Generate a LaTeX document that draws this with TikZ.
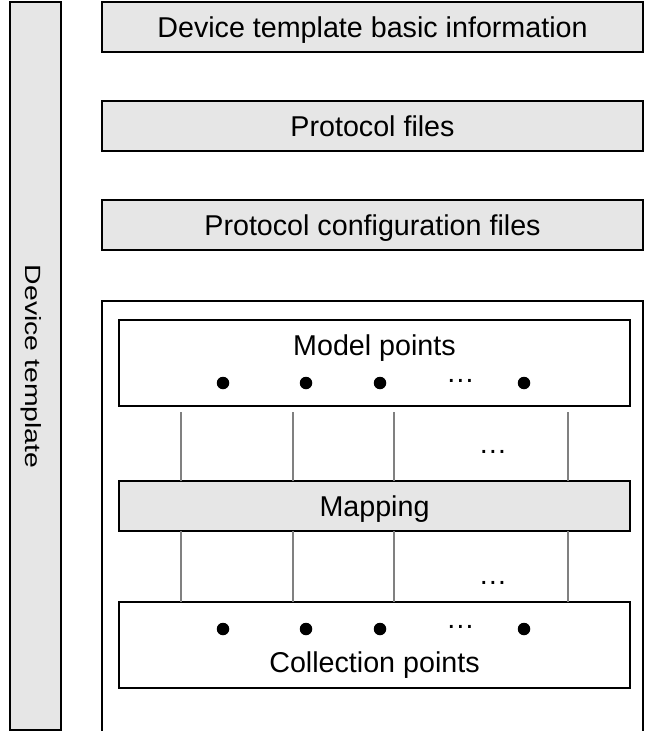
\documentclass[tikz,border=0pt]{standalone}
\usepackage{fontspec}
\setmainfont{Liberation Sans}
\usepackage{tikz}
\usepackage{xcolor}
\usepackage{graphicx}

\definecolor{boxgray}{RGB}{230,230,230}
\definecolor{linkgray}{RGB}{128,128,128}
\newcommand{\pxu}{0.75pt}

\begin{document}
\begin{tikzpicture}[x=0.75pt,y=-0.75pt,
    every node/.style={inner sep=0pt,outer sep=0pt},
    box/.style={draw=black,line width=1.5pt,minimum width=511*\pxu},
    filebox/.style={box,fill=boxgray,minimum height=50*\pxu,
      font=\fontsize{21.5}{26}\selectfont,text height=15.4pt,text depth=0pt},
    pointbox/.style={box,minimum height=86*\pxu},
    lbl/.style={anchor=base,font=\fontsize{21.5}{26}\selectfont},
    pt/.style={circle,fill=black,minimum size=12.5*\pxu},
    link/.style={draw=linkgray,line width=1pt}]
  \useasboundingbox (0,0) rectangle (645,731);
  \node (tmpl) [draw,line width=1.2pt,fill=boxgray,minimum width=51*\pxu,
    minimum height=728*\pxu] at (35.3,366) {};
  \node (tmpllbl) [anchor=base,rotate=-90,font=\fontsize{16.5}{20}\selectfont]
    at (26,366.5) {\scalebox{1.29}[1]{Device template}};
  \node (info) [filebox,minimum width=541*\pxu] at (372.5,27) {Device template basic information};
  \node (proto) [filebox,minimum width=541*\pxu] at (372.5,126) {Protocol files};
  \node (config) [filebox,minimum width=541*\pxu] at (372.5,225) {Protocol configuration files};
  \node (frame) [box,minimum width=541*\pxu,minimum height=470*\pxu,
    anchor=north west] at (102,301) {};
  \node (model) [pointbox] at (374.5,363) {};
  \node (modellbl) [lbl] at (374.5,355) {Model points};
  \node (mapping) [filebox] at (374.5,506) {Mapping};
  \node (collect) [pointbox] at (374.5,645) {};
  \node (collectlbl) [lbl] at (374.5,672.7) {Collection points};
  \foreach \dx [count=\i] in {223,306,380,524} {
    \node (mpt\i) [pt] at (\dx,383) {};
    \node (cpt\i) [pt] at (\dx,629) {};
  }
  \node (mdots) [lbl] at (460.5,382.2) {…};
  \node (cdots) [lbl] at (460.5,628.2) {…};
  \node (updots) [lbl] at (493,453.8) {…};
  \node (lowdots) [lbl] at (493,584.2) {…};
  \foreach \lx [count=\i] in {181,293,394,568} {
    \path (\lx,0) coordinate (lx\i);
    \draw[link] (model.south -| lx\i) ++(0,6) -- (mapping.north -| lx\i);
    \draw[link] (mapping.south -| lx\i) -- (collect.north -| lx\i);
  }
\end{tikzpicture}
\end{document}
